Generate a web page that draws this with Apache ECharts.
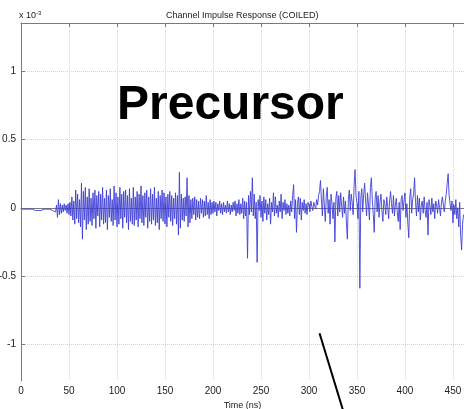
<!DOCTYPE html>
<html lang="en">
<head>
    <meta charset="UTF-8">
    <title>Channel Impulse Response</title>
    <script src="https://cdn.jsdelivr.net/npm/echarts@6/dist/echarts.min.js"></script>
    <style>
        html, body { margin: 0; padding: 0; background: #fff; }
    </style>
</head>
<body>
<div id="main" style="width: 464px;height:409px;"></div>
<script type="text/javascript">
    // sampling step of the trace (ns)
    var dt = 1;

    // impulse response, units of 1e-3, one value per ns from t = 0
    var responseVals = [
        -0.01, -0.01, -0.02, -0.01, -0.01, -0.02, -0.01, -0.01, -0.02, -0.01,
        -0.01, -0.02, -0.01, -0.01, -0.01, -0.02, -0.01, -0.01, -0.02, -0.01,
        -0.01, -0.02, -0.01, -0.02, -0.01, -0.01, -0.02, -0.01, -0.02, -0.01,
        -0.01, -0.02, -0.01, -0.02, -0.01, -0.02, -0.03, 0.02, -0.07, 0.06,
        -0.05, 0.03, -0.04, 0.02, -0.03, 0.03, -0.02, 0.02, -0.04, 0.03,
        -0.05, 0.04, -0.06, 0.08, -0.09, 0.05, -0.12, 0.13, -0.08, 0.10,
        -0.11, 0.06, -0.14, 0.18, -0.23, 0.12, -0.09, 0.15, -0.16, 0.08,
        -0.12, 0.14, -0.10, 0.07, -0.13, 0.11, -0.08, 0.13, -0.15, 0.09,
        -0.06, 0.12, -0.14, 0.10, -0.09, 0.15, -0.12, 0.07, -0.11, 0.13,
        -0.16, 0.09, -0.07, 0.14, -0.10, 0.06, -0.13, 0.16, -0.09, 0.11,
        -0.14, 0.08, -0.12, 0.15, -0.08, 0.10, -0.15, 0.12, -0.07, 0.13,
        -0.11, 0.09, -0.16, 0.14, -0.10, 0.07, -0.12, 0.15, -0.13, 0.08,
        -0.09, 0.12, -0.14, 0.10, -0.08, 0.16, -0.11, 0.09, -0.13, 0.11,
        -0.07, 0.13, -0.15, 0.08, -0.10, 0.14, -0.12, 0.10, -0.09, 0.15,
        -0.13, 0.07, -0.11, 0.12, -0.16, 0.09, -0.08, 0.13, -0.10, 0.11,
        -0.12, 0.08, -0.14, 0.10, -0.07, 0.12, -0.10, 0.09, -0.13, 0.07,
        -0.08, 0.11, -0.12, 0.09, -0.20, 0.26, -0.15, 0.10, -0.09, 0.07,
        -0.10, 0.08, -0.06, 0.22, -0.14, 0.09, -0.11, 0.06, -0.08, 0.07,
        -0.05, 0.08, -0.09, 0.06, -0.07, 0.05, -0.08, 0.07, -0.04, 0.06,
        -0.07, 0.05, -0.06, 0.09, -0.05, 0.04, -0.08, 0.06, -0.05, 0.04,
        -0.04, 0.05, -0.03, 0.04, -0.06, 0.03, -0.02, 0.05, -0.04, 0.03,
        -0.05, 0.04, -0.03, 0.02, -0.04, 0.05, -0.03, 0.03, -0.05, 0.02,
        -0.03, 0.04, -0.02, 0.05, -0.06, 0.03, -0.04, 0.06, -0.05, 0.03,
        -0.04, 0.07, -0.08, 0.05, -0.06, 0.04, -0.37, 0.09, -0.05, 0.12,
        -0.03, 0.22, -0.06, 0.10, -0.08, 0.04, -0.40, 0.06, -0.02, 0.09,
        -0.07, 0.05, -0.10, 0.08, -0.04, 0.06, -0.09, 0.03, -0.05, 0.07,
        -0.12, 0.04, -0.03, 0.11, -0.06, 0.08, -0.04, 0.02, -0.07, 0.05,
        -0.03, 0.10, -0.08, 0.04, -0.02, 0.06, -0.05, 0.03, -0.04, 0.02,
        -0.06, 0.05, -0.03, 0.09, 0.17, -0.08, 0.06, -0.18, 0.03, 0.08,
        -0.05, 0.07, -0.09, 0.04, -0.02, 0.06, -0.04, 0.03, -0.05, 0.04,
        0.02, -0.03, 0.05, 0.01, -0.02, 0.04, 0.03, -0.01, 0.06, 0.02,
        0.09, 0.12, 0.20, 0.05, -0.06, 0.14, 0.02, -0.10, 0.08, 0.15,
        -0.04, 0.06, -0.12, 0.10, 0.03, -0.08, 0.04, -0.25, 0.07, 0.12,
        -0.06, 0.09, -0.03, 0.11, 0.02, -0.07, 0.08, -0.04, 0.05, -0.11,
        -0.23, 0.06, 0.13, -0.02, 0.10, 0.04, -0.05, 0.16, 0.28, 0.09,
        0.03, -0.08, 0.12, -0.59, 0.07, 0.14, -0.03, 0.10, 0.18, 0.05,
        -0.06, 0.11, 0.02, -0.09, 0.15, 0.22, 0.06, -0.05, -0.18, 0.08,
        0.12, -0.03, 0.09, -0.07, 0.04, 0.10, -0.02, -0.10, 0.06, 0.03,
        -0.05, 0.08, 0.01, -0.08, 0.05, 0.12, 0.03, -0.04, 0.09, -0.06,
        0.02, 0.07, -0.03, -0.10, 0.04, -0.16, 0.06, 0.09, -0.02, 0.05,
        0.11, -0.07, 0.03, -0.12, -0.22, 0.08, 0.14, -0.04, 0.06, 0.10,
        0.22, 0.04, -0.06, 0.09, -0.03, 0.07, -0.09, 0.02, 0.05, -0.04,
        0.08, -0.02, -0.07, 0.04, -0.20, 0.06, 0.01, -0.05, 0.07, -0.03,
        0.03, -0.08, 0.05, 0.02, -0.04, 0.06, 0.00, -0.06, 0.04, 0.08,
        0.02, -0.03, 0.05, 0.10, 0.18, 0.25, 0.09, 0.03, -0.02, 0.05,
        -0.11, 0.02, -0.05, 0.06, -0.08, 0.00, -0.14, 0.04, -0.20, -0.31,
        -0.12, -0.05
    ];

    // y ticks (x 1e-3)
    var yTickValues = [-1, -0.5, 0, 0.5, 1];
    var yTickLabels = ['-1', '-0.5', '0', '0.5', '1'];

    var seriesData = responseVals.map(function (v, i) {
        return [i * dt, v];
    });

    var font = 'Liberation Sans';
    var axisColor = '#7a7a7a';

    var myChart = echarts.init(document.getElementById('main'));

    myChart.setOption({
        animation: false,
        backgroundColor: '#fff',
        title: {
            text: 'Channel Impulse Response (COILED)',
            left: 161,
            top: 6,
            textStyle: {
                fontFamily: font,
                fontSize: 9,
                fontWeight: 'normal',
                color: '#222'
            }
        },
        grid: {
            left: 21,
            top: 23,
            right: 0,
            bottom: 28,
            containLabel: false,
            outerBoundsMode: 'none'
        },
        xAxis: [{
            type: 'value',
            min: 0,
            max: 461.5,
            interval: 50,
            name: 'Time (ns)',
            nameLocation: 'middle',
            nameGap: 17,
            nameTextStyle: {fontFamily: font, fontSize: 9, color: '#222'},
            axisLine: {lineStyle: {color: axisColor, width: 1}},
            axisTick: {inside: true, length: 4, lineStyle: {color: axisColor}},
            axisLabel: {
                fontFamily: font, fontSize: 10, color: '#222', margin: 5,
                showMaxLabel: false
            },
            splitLine: {show: true, lineStyle: {color: '#d4d4d4', type: 'dotted'}}
        }, {
            type: 'value',
            position: 'top',
            min: 0,
            max: 461.5,
            interval: 50,
            axisLine: {show: true, lineStyle: {color: axisColor, width: 1}},
            axisTick: {show: true, inside: true, length: 4, lineStyle: {color: axisColor}},
            axisLabel: {show: false},
            splitLine: {show: false}
        }],
        yAxis: {
            type: 'value',
            min: -1.27,
            max: 1.355,
            axisLine: {show: true, lineStyle: {color: axisColor, width: 1}},
            axisTick: {show: true, inside: true, length: 4, customValues: yTickValues,
                lineStyle: {color: axisColor}},
            axisLabel: {
                customValues: yTickValues,
                fontFamily: font, fontSize: 10, color: '#222', margin: 5,
                formatter: function (v) {
                    return yTickLabels[yTickValues.indexOf(v)];
                }
            },
            splitLine: {show: true, lineStyle: {color: '#d4d4d4', type: 'dotted'}}
        },
        graphic: [{
            type: 'text',
            left: 19,
            top: 10,
            style: {
                text: 'x 10{sup|-3}',
                fontFamily: font,
                fontSize: 9,
                fill: '#222',
                rich: {
                    sup: {fontSize: 6, fontFamily: font, verticalAlign: 'top', padding: [0, 0, 5, 0]}
                }
            }
        }, {
            type: 'text',
            left: 117,
            top: 82,
            z: 100,
            style: {
                text: 'Precursor',
                fontFamily: font,
                fontSize: 48,
                fontWeight: 'bold',
                fill: '#000'
            }
        }],
        series: [{
            name: 'Impulse response',
            type: 'line',
            data: seriesData,
            showSymbol: false,
            clip: true,
            lineStyle: {color: '#4040d4', width: 0.9}
        }]
    });

    // pointer line drawn in data coordinates
    var p1 = myChart.convertToPixel({gridIndex: 0}, [311, -0.92]);
    var p2 = myChart.convertToPixel({gridIndex: 0}, [337, -1.52]);
    myChart.setOption({
        graphic: [{}, {}, {
            type: 'line',
            z: 100,
            shape: {x1: p1[0], y1: p1[1], x2: p2[0], y2: p2[1]},
            style: {stroke: '#000', lineWidth: 2}
        }]
    });
</script>
</body>
</html>
